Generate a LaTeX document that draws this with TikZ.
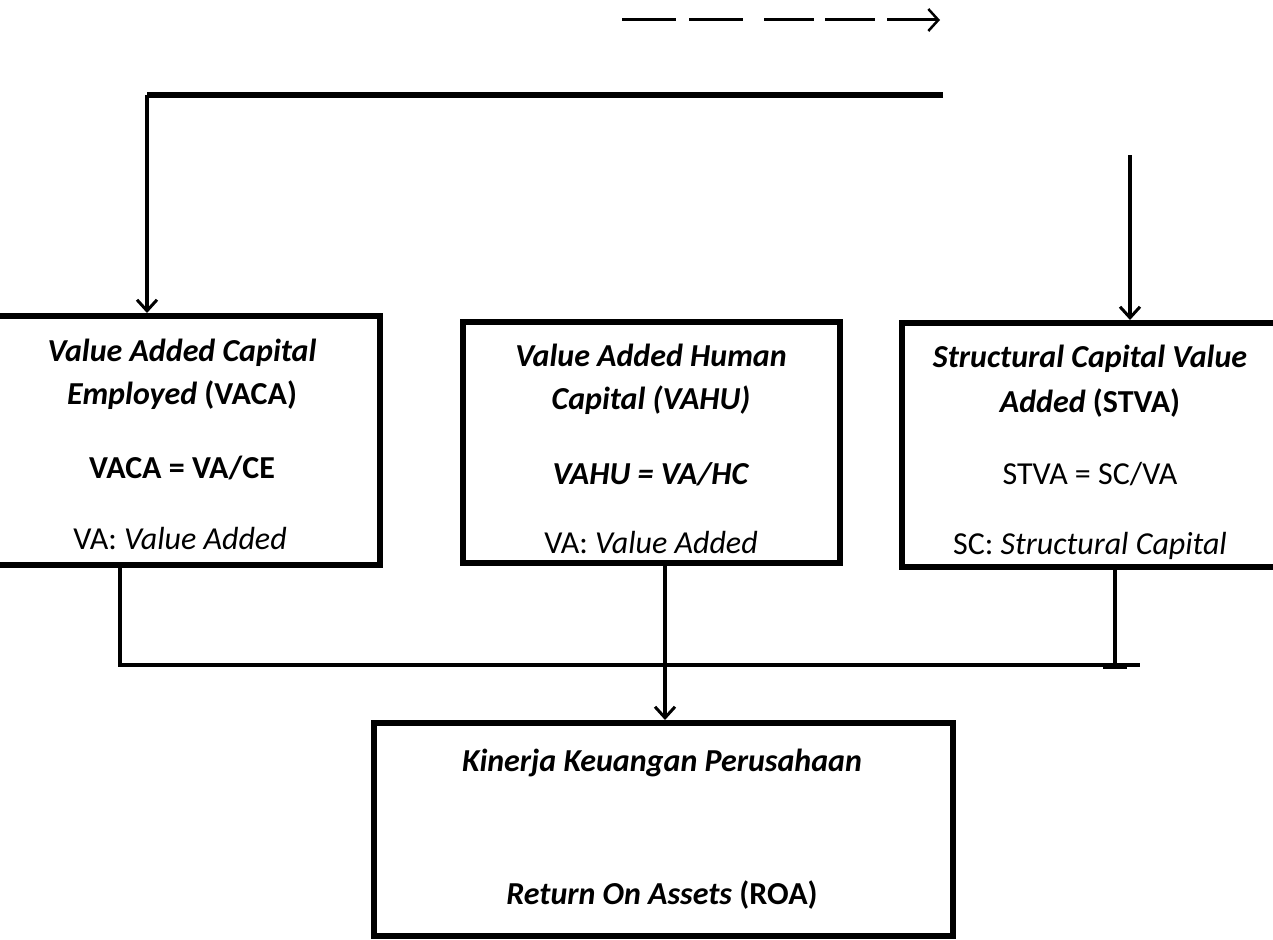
\documentclass[tikz,border=0pt]{standalone}
\usepackage{fontspec}
\setmainfont{Carlito}
\usetikzlibrary{arrows.meta}
\begin{document}
\begin{tikzpicture}[x=1pt,y=-1pt,
  box/.style={draw,line width=6pt,inner sep=0pt},
  conn/.style={line width=4.5pt},
  tip/.style={-{Straight Barb[length=11pt,width=20pt,line width=3pt]}},
  lbl/.style={font=\fontsize{32}{38}\selectfont, inner sep=0pt, anchor=base}]
\useasboundingbox (0,0) rectangle (1273,939);
\clip (0,0) rectangle (1273,939);
% legend dashed arrow
\coordinate (d0) at (622,20);
\coordinate (d1) at (676,20);
\coordinate (d2) at (689,20);
\coordinate (d3) at (743,20);
\coordinate (d4) at (764,20);
\coordinate (d5) at (814,20);
\coordinate (d6) at (825,20);
\coordinate (d7) at (875,20);
\coordinate (d8) at (887,20);
\coordinate (d9) at (940,20);
\draw[line width=3pt] (d0) -- (d1) (d2) -- (d3) (d4) -- (d5) (d6) -- (d7);
\draw[line width=3pt,-{Straight Barb[length=10pt,width=22pt,line width=2.5pt]}] (d8) -- (d9);
% boxes
\node[box, minimum width=385pt, minimum height=249pt] (vaca) at (187.5,440.5) {};
\node[box, minimum width=377pt, minimum height=241pt] (vahu) at (651.5,442.5) {};
\node[box, minimum width=378pt, minimum height=244pt] (stva) at (1091,445) {};
\node[box, minimum width=579pt, minimum height=213pt] (roa) at (663.5,829.5) {};
% texts
\node[lbl] (a1) at (182,361) {\textbf{\textit{Value Added Capital}}};
\node[lbl] (a2) at (182,404) {\textbf{\textit{Employed} (VACA)}};
\node[lbl] (a3) at (182,478) {\textbf{VACA = VA/CE}};
\node[lbl] (a4) at (180,549) {VA: \textit{Value Added}};
\node[lbl] (b1) at (651,366) {\textbf{\textit{Value Added Human}}};
\node[lbl] (b2) at (651,409) {\textbf{\textit{Capital (VAHU)}}};
\node[lbl] (b3) at (651,484) {\textbf{\textit{VAHU = VA/HC}}};
\node[lbl] (b4) at (651,553) {VA: \textit{Value Added}};
\node[lbl] (c1) at (1090,367) {\textbf{\textit{Structural Capital Value}}};
\node[lbl] (c2) at (1090,412) {\textbf{\textit{Added} (STVA)}};
\node[lbl] (c3) at (1090,484) {STVA = SC/VA};
\node[lbl] (c4) at (1090,554) {SC: \textit{Structural Capital}};
\node[lbl] (r1) at (662,771) {\textbf{\textit{Kinerja Keuangan Perusahaan}}};
\node[lbl] (r2) at (662,904) {\textbf{\textit{Return On Assets} (ROA)}};
% top connectors
\coordinate (t0) at (943,95);
\coordinate (t1) at (147,95);
\draw[line width=6pt] (t0) -- (t1);
\draw[conn,tip] (t1) -- (t1 |- vaca.north);
\coordinate (s0) at (1130,155);
\draw[conn,tip] (s0) -- (s0 |- stva.north);
% bottom connectors
\coordinate (l0) at (120,563);
\coordinate (l1) at (120,665);
\coordinate (rr1) at (1140,665);
\draw[conn] (l0) -- (l1) -- (rr1);
\coordinate (m0) at (665,563);
\draw[conn,tip] (m0) -- (m0 |- roa.north);
\coordinate (q0) at (1115,567);
\coordinate (q1) at (1115,667);
\draw[conn] (q0) -- (q1);
\draw[line width=4pt] (1103,567) -- (1127,567) (1103,667) -- (1127,667);
\end{tikzpicture}
\end{document}
